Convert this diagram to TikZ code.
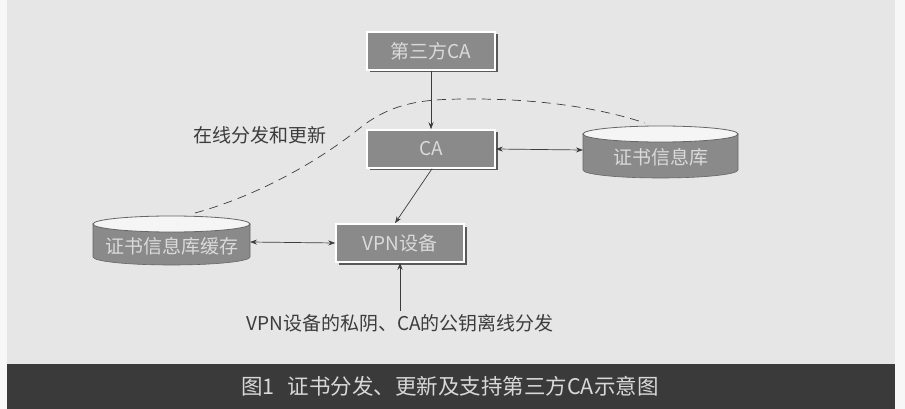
\documentclass[tikz,border=0pt]{standalone}
\usepackage{fontspec}
\newfontfamily\cjk{Noto Sans CJK SC}
\usetikzlibrary{arrows.meta,shadows}
\definecolor{bg}{HTML}{E6E6E6}
\definecolor{boxgray}{HTML}{8A8A8A}
\definecolor{boxtext}{HTML}{DADADA}
\definecolor{linec}{HTML}{3C3C3C}
\definecolor{bar}{HTML}{3A3A3A}
\definecolor{capt}{HTML}{D8D8D8}
\tikzset{
  bevelbox/.style={rectangle, minimum width=128pt, minimum height=38pt, fill=boxgray,
    draw=white, line width=1.5pt, text=boxtext, font=\cjk\fontsize{19}{22}\selectfont,
    drop shadow={shadow xshift=2.5pt, shadow yshift=-2.5pt, fill=black!65, opacity=1}},
  cyltext/.style={text=boxtext, font=\cjk\fontsize{19}{22}\selectfont, inner sep=0pt},
  label/.style={text=linec, font=\cjk\fontsize{19}{22}\selectfont},
  conn/.style={draw=linec, line width=0.7pt},
  arr/.style={conn, -{Stealth[length=7pt,width=5pt]}},
  darr/.style={conn, {Stealth[length=7pt,width=5pt]}-{Stealth[length=7pt,width=5pt]}},
  cylbody/.style={fill=boxgray, draw=gray!80!black, line width=0.6pt},
  cyltop/.style={fill=white!96!black, draw=gray!80!black, line width=0.8pt},
}
\begin{document}
\begin{tikzpicture}[x=1pt,y=-1pt]
\useasboundingbox (0,0) rectangle (905,409);
\fill[white!97!black] (0,0) rectangle (905,409);
\fill[bg] (7,0) rectangle (895,409);
\fill[bar] (7,364) rectangle (895,409);
\node[text=capt, font=\cjk\fontsize{21.5}{25}\selectfont] (cap) at (450,386) {图1\hspace{0.6em}证书分发、更新及支持第三方CA示意图};

% boxes
\node[bevelbox] (tca) at (431,51) {第三方CA};
\node[bevelbox] (ca) at (431,149) {CA};
\node[bevelbox] (vpn) at (400,243) {VPN设备};

% repository cylinder
\path[cylbody] (583,134) -- (583,170) arc[start angle=180, end angle=0, x radius=77.5, y radius=8] -- (738,134) -- cycle;
\path[cyltop] (660.5,134) ellipse[x radius=77.5, y radius=8];
\node[cyltext] (repo) at (660.5,157) {证书信息库};
\coordinate (repoL) at (583,150);
\coordinate (repoT) at (645,123);

% cache cylinder
\path[cylbody] (93,224) -- (93,257) arc[start angle=180, end angle=0, x radius=78.5, y radius=8] -- (250,224) -- cycle;
\path[cyltop] (171.5,224) ellipse[x radius=78.5, y radius=8];
\node[cyltext] (cache) at (171.5,246) {证书信息库缓存};
\coordinate (cacheR) at (250,242);
\coordinate (cacheT) at (195,213);

% labels
\node[label] (online) at (260,135) {在线分发和更新};
\node[label] (offline) at (400,323) {VPN设备的私阴、CA的公钥离线分发};

% connectors
\draw[arr] (tca.south) -- (ca.north);
\draw[darr] (ca.east) -- (repoL);
\draw[arr] ([xshift=1pt]ca.south) -- ([xshift=-5pt]vpn.north);
\draw[darr] (cacheR) -- (vpn.west);
\draw[arr] (offline.north) -- (vpn.south);
\draw[conn, dashed, dash pattern=on 9pt off 6pt] (cacheT)
  .. controls (260,195) and (320,160) .. (360,128)
  .. controls (395,100) and (430,99) .. (473,99)
  .. controls (540,99) and (600,108) .. (repoT);
\end{tikzpicture}
\end{document}
